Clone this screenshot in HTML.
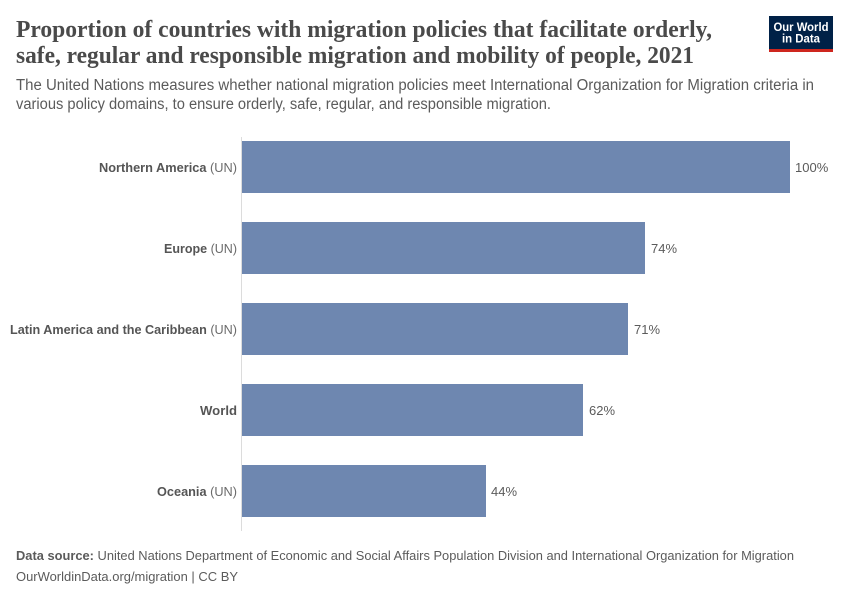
<!DOCTYPE html>
<html>
<head>
<meta charset="utf-8">
<style>
  html, body { margin:0; padding:0; background:#fff; }
  svg { display:block; }
  text { font-family: "Liberation Sans", "DejaVu Sans", sans-serif; }
  .title { font-family: "Liberation Serif", serif; font-weight:bold; font-size:24px; fill:#4a4a4a; }
  .sub { font-size:15.5px; fill:#5b5b5b; }
  .lab { font-size:13px; fill:#555; }
  .val { font-size:13px; fill:#5b5b5b; }
  .foot { font-size:13px; fill:#5b5b5b; }
</style>
</head>
<body>
<svg width="850" height="600" viewBox="0 0 850 600" xmlns="http://www.w3.org/2000/svg">
  <rect width="850" height="600" fill="#fff"/>

  <!-- Title -->
  <text class="title" x="16" y="37" textLength="696" lengthAdjust="spacingAndGlyphs">Proportion of countries with migration policies that facilitate orderly,</text>
  <text class="title" x="16" y="63" textLength="678" lengthAdjust="spacingAndGlyphs">safe, regular and responsible migration and mobility of people, 2021</text>

  <!-- Subtitle -->
  <text class="sub" x="16" y="90" textLength="798" lengthAdjust="spacingAndGlyphs">The United Nations measures whether national migration policies meet International Organization for Migration criteria in</text>
  <text class="sub" x="16" y="109" textLength="535" lengthAdjust="spacingAndGlyphs">various policy domains, to ensure orderly, safe, regular, and responsible migration.</text>

  <!-- Logo -->
  <rect x="769" y="16" width="64" height="33" fill="#002147"/>
  <rect x="769" y="49" width="64" height="3" fill="#ce261e"/>
  <text x="801" y="31" text-anchor="middle" font-size="11.5" font-weight="bold" fill="#fff" textLength="55" lengthAdjust="spacingAndGlyphs">Our World</text>
  <text x="801" y="42.5" text-anchor="middle" font-size="11.5" font-weight="bold" fill="#fff" textLength="38" lengthAdjust="spacingAndGlyphs">in Data</text>

  <!-- Axis line -->
  <line x1="241.5" y1="137" x2="241.5" y2="531" stroke="#dcdcdc" stroke-width="1"/>

  <!-- Bars -->
  <g fill="#6e87b0">
    <rect x="242" y="141" width="548" height="52"/>
    <rect x="242" y="222" width="403" height="52"/>
    <rect x="242" y="303" width="386" height="52"/>
    <rect x="242" y="384" width="341" height="52"/>
    <rect x="242" y="465" width="244" height="52"/>
  </g>

  <!-- Category labels -->
  <text class="lab" x="237" y="172" text-anchor="end" textLength="138" lengthAdjust="spacingAndGlyphs"><tspan font-weight="bold">Northern America</tspan> <tspan fill="#6a6a6a">(UN)</tspan></text>
  <text class="lab" x="237" y="253" text-anchor="end" textLength="73" lengthAdjust="spacingAndGlyphs"><tspan font-weight="bold">Europe</tspan> <tspan fill="#6a6a6a">(UN)</tspan></text>
  <text class="lab" x="237" y="334" text-anchor="end" textLength="227" lengthAdjust="spacingAndGlyphs"><tspan font-weight="bold">Latin America and the Caribbean</tspan> <tspan fill="#6a6a6a">(UN)</tspan></text>
  <text class="lab" x="237" y="415" text-anchor="end" textLength="37" lengthAdjust="spacingAndGlyphs" font-weight="bold">World</text>
  <text class="lab" x="237" y="496" text-anchor="end" textLength="80" lengthAdjust="spacingAndGlyphs"><tspan font-weight="bold">Oceania</tspan> <tspan fill="#6a6a6a">(UN)</tspan></text>

  <!-- Values -->
  <text class="val" x="795" y="172">100%</text>
  <text class="val" x="651" y="253">74%</text>
  <text class="val" x="634" y="334">71%</text>
  <text class="val" x="589" y="415">62%</text>
  <text class="val" x="491" y="496">44%</text>

  <!-- Footer -->
  <text class="foot" x="16" y="560" textLength="778" lengthAdjust="spacingAndGlyphs"><tspan font-weight="bold">Data source:</tspan> United Nations Department of Economic and Social Affairs Population Division and International Organization for Migration</text>
  <text class="foot" x="16" y="581" textLength="222" lengthAdjust="spacingAndGlyphs">OurWorldinData.org/migration | CC BY</text>
</svg>
</body>
</html>
